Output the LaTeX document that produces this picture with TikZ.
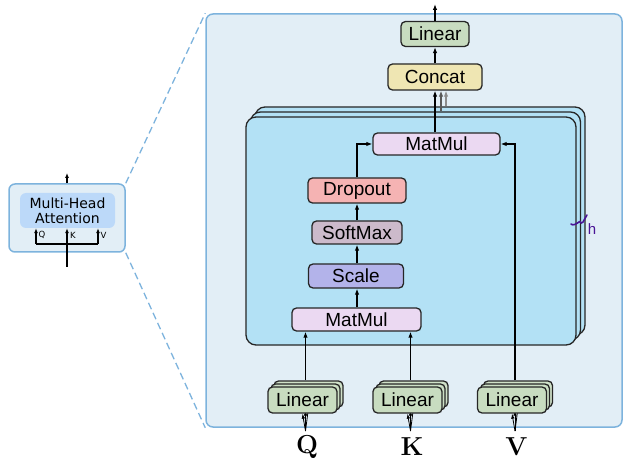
\documentclass[tikz,border=0pt]{standalone}
\usepackage{fontspec}
\setsansfont{Liberation Sans}
\newfontfamily\djv{DejaVu Sans}
\usetikzlibrary{arrows.meta,calc}
\definecolor{panelfill}{HTML}{E2EEF6}
\definecolor{panelline}{HTML}{7DB3DD}
\definecolor{stackfill}{HTML}{B3E1F5}
\definecolor{linfill}{HTML}{C8DCC0}
\definecolor{catfill}{HTML}{EFE6B3}
\definecolor{mmfill}{HTML}{EBD9F2}
\definecolor{dropfill}{HTML}{F5B3B3}
\definecolor{smfill}{HTML}{CCBACB}
\definecolor{scfill}{HTML}{B3B3EA}
\definecolor{mhafill}{HTML}{BCD9F9}
\definecolor{hcol}{HTML}{4A1496}
\begin{document}
\begin{tikzpicture}[x=1pt,y=-1pt,
  op/.style={draw=black!85,line width=1.3pt,rounded corners=4.5pt,inner sep=0pt,
     font=\sffamily\fontsize{19}{19}\selectfont},
  layer/.style={draw=black!85,line width=1.3pt,rounded corners=10pt,fill=stackfill,inner sep=0pt},
  conn/.style={line width=1.5pt,-{Latex[length=6pt,width=4.5pt]}},
  thin/.style={line width=1.3pt,-{Latex[length=5pt,width=4pt]}},
  fan/.style={line width=0.8pt,-{Latex[length=5pt,width=3.5pt]}},
  letter/.style={font=\rmfamily\fontsize{26}{26}\selectfont\bfseries},
]
\useasboundingbox (0,0) rectangle (624,465);
% big panel
\node[draw=panelline,fill=panelfill,line width=1.5pt,rounded corners=7pt,
  minimum width=416pt,minimum height=413pt,inner sep=0pt] (panel) at (414,220.5) {};
% left small box
\node[draw=panelline,fill=panelfill,line width=1.5pt,rounded corners=6pt,
  minimum width=116pt,minimum height=68pt,inner sep=0pt] (lb) at (67,218) {};
\node[fill=mhafill,rounded corners=6pt,minimum width=95pt,minimum height=35pt,inner sep=0pt,
  font=\djv\fontsize{14}{15}\selectfont,align=center] (mha) at (67.5,210.5) {Multi-Head\\Attention};
\draw[panelline,line width=1.3pt,dash pattern=on 7pt off 4pt] (lb.north east) -- (panel.north west);
\draw[panelline,line width=1.3pt,dash pattern=on 7pt off 4pt] (lb.south east) -- (panel.south west);
\coordinate (lout) at (67,173);
\coordinate (lin) at (67,267);
\coordinate (lbl) at (36,244);
\coordinate (lbr) at (98,244);
\draw[thin] (lb.north -| lout) -- (lout);
\draw[thin] (lin) -- (lin |- mha.south);
\draw[line width=1.3pt] (lbl) -- (lbr);
\draw[thin] (lbl) -- (lbl |- mha.south);
\draw[thin] (lbr) -- (lbr |- mha.south);
\node[font=\djv\fontsize{8.5}{8.5}\selectfont,inner sep=0pt] (lq) at (42,235) {Q};
\node[font=\djv\fontsize{8.5}{8.5}\selectfont,inner sep=0pt] (lk) at (73,235) {K};
\node[font=\djv\fontsize{8.5}{8.5}\selectfont,inner sep=0pt] (lv) at (103.5,235) {V};
% stack of heads
\node[layer,minimum width=330pt,minimum height=228pt] (s3) at (420,221) {};
\node[layer,minimum width=330pt,minimum height=228pt] (s2) at (415.5,226) {};
\node[layer,minimum width=330pt,minimum height=228pt] (s1) at (411,231) {};
% h mark
\draw[hcol,line width=1.6pt,line cap=round] (571,224) .. controls (573,226) and (576,224) .. (579,222) .. controls (581,220) and (580,225) .. (583,222) .. controls (585,220) and (585,217) .. (587,215);
\node[hcol,font=\sffamily\fontsize{15}{15}\selectfont,inner sep=0pt] (hl) at (592,229) {h};
% top ops
\node[op,fill=linfill,minimum width=68pt,minimum height=25pt] (lt) at (435,34) {Linear};
\node[op,fill=catfill,minimum width=94pt,minimum height=26pt] (cat) at (435,77) {Concat};
\node[op,fill=mmfill,minimum width=127pt,minimum height=22pt] (m1) at (436.5,144) {MatMul};
\node[op,fill=dropfill,minimum width=98pt,minimum height=25pt] (dr) at (357,190.5) {Dropout};
\node[op,fill=smfill,minimum width=90pt,minimum height=23pt] (sm) at (357,232.5) {SoftMax};
\node[op,fill=scfill,minimum width=95pt,minimum height=24pt] (sc) at (356,276) {Scale};
\node[op,fill=mmfill,minimum width=129pt,minimum height=23pt] (m2) at (356.5,319.5) {MatMul};
\coordinate (out) at (435,4);
\draw[conn] (lt.north) -- (out);
\draw[conn] (cat.north) -- (lt.south);
\draw[conn,black!45] (s3.north -| 446,0) -- (cat.south -| 446,0);
\draw[conn,black!65] (s2.north -| 441,0) -- (cat.south -| 441,0);
\draw[conn] (m1.north -| cat.south) -- (cat.south);
\draw[conn] (dr.north) |- (m1.west);
\draw[conn] (sm.north) -- (sm.north |- dr.south);
\draw[conn] (sc.north -| sm.north) -- (sm.south);
\draw[conn] (m2.north -| sm.north) -- (sc.south -| sm.north);
% bottom linears, letters and fans
\foreach \n/\x/\L in {q/302.5/Q,k/407.5/K,v/512/V}{
  \node[letter,inner sep=0pt] (\n l) at (\x+4.5,447) {\L};
  \coordinate (\n f) at (\x+3,431);
  \node[op,fill=linfill!85!white,minimum width=69pt,minimum height=26pt] (\n 3) at (\x+6,394) {};
  \draw[fan] (\n f) -- (\n 3.south);
  \node[op,fill=linfill!92!white,minimum width=69pt,minimum height=26pt] (\n 2) at (\x+3,397) {};
  \draw[fan] (\n f) -- (\n 2.south);
  \node[op,fill=linfill,minimum width=69pt,minimum height=26pt] (\n 1) at (\x,400) {Linear};
  \draw[fan] (\n f) -- (\n 1.south);
}
\draw[conn] (q2 |- q3.north) -- (q2 |- m2.south);
\draw[conn] (k2 |- k3.north) -- (k2 |- m2.south);
\draw[conn] (v2 |- v3.north) |- (m1.east);
\end{tikzpicture}
\end{document}
